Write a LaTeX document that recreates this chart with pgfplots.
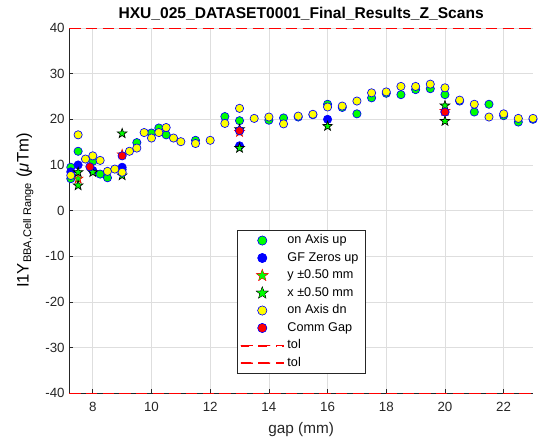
\documentclass[border=0pt]{standalone}
\usepackage{pgfplots}
\pgfplotsset{compat=1.18}
\usepackage{fontspec}
\setmainfont{Liberation Sans}
\usetikzlibrary{plotmarks}
\definecolor{axgray}{rgb}{0.15,0.15,0.15}
\definecolor{mgreen}{rgb}{0,1,0}
\definecolor{myellow}{rgb}{1,1,0}
\definecolor{mblue}{rgb}{0,0,1}
\definecolor{mred}{rgb}{1,0,0}
\newcommand{\starpath}[2]{%
  \pgfpathmoveto{\pgfpointpolar{90}{#1}}%
  \pgfpathlineto{\pgfpointpolar{126}{#2}}%
  \pgfpathlineto{\pgfpointpolar{162}{#1}}%
  \pgfpathlineto{\pgfpointpolar{198}{#2}}%
  \pgfpathlineto{\pgfpointpolar{234}{#1}}%
  \pgfpathlineto{\pgfpointpolar{270}{#2}}%
  \pgfpathlineto{\pgfpointpolar{306}{#1}}%
  \pgfpathlineto{\pgfpointpolar{342}{#2}}%
  \pgfpathlineto{\pgfpointpolar{18}{#1}}%
  \pgfpathlineto{\pgfpointpolar{54}{#2}}%
  \pgfpathclose}
\pgfdeclareplotmark{pentagram}{\starpath{\pgfplotmarksize}{0.4\pgfplotmarksize}\pgfusepathqfillstroke}
\pgfplotsset{
  legcirc/.style 2 args={legend image code/.code={%
    \pgfpathmoveto{\pgfpointorigin}\pgfpathlineto{\pgfpoint{1.13cm}{0pt}}\pgfusepath{}%
    \fill[color=#1] (0.565cm,0cm) circle[radius=3.35pt];
    \fill[color=#1] (0.565cm,0cm) circle[radius=3.35pt];
    \fill[color=#2] (0.565cm,0cm) circle[radius=2.85pt];}},
  legstar/.style 2 args={legend image code/.code={%
    \pgfpathmoveto{\pgfpointorigin}\pgfpathlineto{\pgfpoint{1.13cm}{0pt}}\pgfusepath{}%
    \fill[color=#1, shift={(0.565cm,0cm)}] (90:4.3pt) -- (126:1.75pt) -- (162:4.3pt) -- (198:1.75pt) -- (234:4.3pt) -- (270:1.75pt) -- (306:4.3pt) -- (342:1.75pt) -- (18:4.3pt) -- (54:1.75pt) -- cycle;
    \fill[color=#1, shift={(0.565cm,0cm)}] (90:4.3pt) -- (126:1.75pt) -- (162:4.3pt) -- (198:1.75pt) -- (234:4.3pt) -- (270:1.75pt) -- (306:4.3pt) -- (342:1.75pt) -- (18:4.3pt) -- (54:1.75pt) -- cycle;
    \fill[color=#2, shift={(0.565cm,0cm)}] (90:3.4pt) -- (126:1.35pt) -- (162:3.4pt) -- (198:1.35pt) -- (234:3.4pt) -- (270:1.35pt) -- (306:3.4pt) -- (342:1.35pt) -- (18:3.4pt) -- (54:1.35pt) -- cycle;}},
  legl/.style={legend image code/.code={%
    \pgfpathmoveto{\pgfpointorigin}\pgfpathlineto{\pgfpoint{1.13cm}{0pt}}\pgfusepath{}%
    \fill[color=mred] (0cm,-0.3pt) rectangle (8.8pt,0.3pt) (13.2pt,-0.3pt) rectangle (22pt,0.3pt) (26.4pt,-0.3pt) rectangle (32.1pt,0.3pt);
    \fill[color=mred] (0cm,-0.3pt) rectangle (8.8pt,0.3pt) (13.2pt,-0.3pt) rectangle (22pt,0.3pt) (26.4pt,-0.3pt) rectangle (32.1pt,0.3pt);
    \draw[color=mred, line width=0.6pt, dash pattern=on 8.8pt off 4.4pt] (0cm,0cm) -- (1.13cm,0cm);}},
}
\begin{document}
\begin{tikzpicture}
\begin{axis}[
  name=ax,
  scale only axis,
  width=347.8pt, height=274pt,
  xmin=7.2, xmax=23, ymin=-40, ymax=40,
  xtick={8,10,...,22},
  ytick={-40,-30,...,40},
  axis x line*=bottom, axis y line*=left,
  axis line style={axgray, line width=0.5pt},
  tick align=inside,
  major tick length=3pt,
  tick style={axgray, line width=0.5pt},
  grid=major,
  grid style={black!13, line width=0.5pt},
  /pgf/number format/assume math mode=true,
  tick label style={font=\fontsize{10}{12}\selectfont, text=axgray},
  xticklabel style={yshift=-3pt},
  label style={font=\fontsize{11.5}{13}\selectfont, text=axgray},
  xlabel={gap (mm)},
  xlabel style={yshift=-1.5pt},
  every axis y label/.style={at={(rel axis cs:0,0.5)}, xshift=-30.6pt, rotate=90, anchor=base},
  ylabel={\fontsize{12.5}{14}\selectfont I1Y\textsubscript{\fontsize{8.3}{10}\selectfont BBA,Cell Range} (\textit{μ}Tm)},
  title={\textbf{HXU\_025\_DATASET0001\_Final\_Results\_Z\_Scans}},
  title style={font=\fontsize{11.7}{13}\selectfont, yshift=-3.5pt},
  clip=false,
  legend style={at={(0.5,0.053)}, anchor=south, font=\fontsize{9.5}{11}\selectfont,
    draw=axgray, line width=0.5pt, fill=white, row sep=4.1pt,
    inner xsep=2.5pt, inner ysep=3.5pt,
    nodes={inner xsep=2.5pt, inner ysep=0pt, text height=7pt, text depth=2pt}},
  legend cell align=left,
]
% on Axis up
\addplot[only marks, mark=*, mark size=3.1pt, draw=mblue, fill=mgreen, line width=0.5pt, legcirc={mblue}{mgreen}] coordinates {
(7.25,9.5) (7.25,7.0) (7.5,13.0) (8.0,10.8) (8.25,8.0) (8.5,7.2) (9.0,9.0)
(9.5,14.9) (10.0,17.0) (10.25,18.1) (10.5,16.6) (11.5,15.4) (12.5,20.6)
(13.0,19.7) (14.0,19.8) (14.5,20.3) (15.0,20.5) (15.5,21.0) (16.0,23.3)
(16.5,22.6) (17.0,21.2) (17.5,24.7) (18.0,25.7) (18.5,25.4) (19.0,26.5)
(19.5,26.7) (20.0,25.4) (20.5,24.0) (21.0,21.6) (21.5,23.3) (22.0,20.8)
(22.5,19.4) (23.0,20.0)
};
\addlegendentry{on Axis up}
% GF Zeros up
\addplot[only marks, mark=*, mark size=3.1pt, draw=mblue, fill=mblue, line width=0.5pt, legcirc={mblue}{mblue}] coordinates {
(7.25,8.5) (7.5,10.0) (8.0,8.8) (9.0,9.5) (13.0,14.2) (13.0,17.5) (16.0,20.0) (20.0,21.6)
};
\addlegendentry{GF Zeros up}
% y +-0.50 mm
\addplot[only marks, mark=pentagram, mark size=3.8pt, draw=mred, fill=mgreen, line width=0.5pt, legstar={mred}{mgreen}] coordinates {
(7.5,7.0) (9.0,12.3) (13.0,17.2) (20.0,21.8)
};
\addlegendentry{y ±0.50 mm}
% x +-0.50 mm
\addplot[only marks, mark=pentagram, mark size=3.8pt, draw=black, fill=mgreen, line width=0.5pt, legstar={black}{mgreen}] coordinates {
(7.5,8.4) (7.5,5.5) (8.0,8.4) (9.0,16.9) (9.0,7.7) (13.0,17.8) (13.0,13.7)
(16.0,18.5) (20.0,23.0) (20.0,19.6)
};
\addlegendentry{x ±0.50 mm}
% on Axis dn
\addplot[only marks, mark=*, mark size=3.1pt, draw=mblue, fill=myellow, line width=0.5pt, legcirc={mblue}{myellow}] coordinates {
(7.25,7.7) (7.5,16.6) (7.75,11.3) (8.0,12.0) (8.25,11.0) (8.5,8.6) (8.75,9.1)
(9.0,8.4) (9.25,13.0) (9.5,13.7) (9.75,17.1) (10.0,15.9) (10.25,17.1)
(10.5,18.2) (10.75,15.9) (11.0,15.1) (11.5,14.7) (12.0,15.4) (12.5,19.1)
(13.0,22.4) (13.5,20.2) (14.0,20.5) (14.5,19.0) (15.0,20.7) (15.5,21.1)
(16.0,22.7) (16.5,22.9) (17.0,24.0) (17.5,25.8) (18.0,26.0) (18.5,27.2)
(19.0,27.2) (19.5,27.7) (20.0,26.9) (20.5,24.2) (21.0,23.3) (21.5,20.5)
(22.0,21.2) (22.5,20.2) (23.0,20.2)
};
\addlegendentry{on Axis dn}
% Comm Gap
\addplot[only marks, mark=*, mark size=3.1pt, draw=mblue, fill=mred, line width=0.5pt, legcirc={mblue}{mred}] coordinates {
(7.9,9.6) (9.0,12.0) (13.0,17.5) (20.0,21.6)
};
\addlegendentry{Comm Gap}
% tol
\addplot[draw=mred, line width=0.5pt, dash pattern=on 8.5pt off 4pt, legl] coordinates {(7.2,40) (23,40)};
\addlegendentry{tol}
\addplot[draw=mred, line width=0.5pt, dash pattern=on 8.5pt off 4pt, legl] coordinates {(7.2,-40) (23,-40)};
\addlegendentry{tol}
\end{axis}
\path (ax.south west) ++(-52pt,-38.8pt) coordinate (bl);
\path (ax.north east) ++(4.5pt,21pt) coordinate (tr);
\path (bl) rectangle (tr);
\end{tikzpicture}
\end{document}
